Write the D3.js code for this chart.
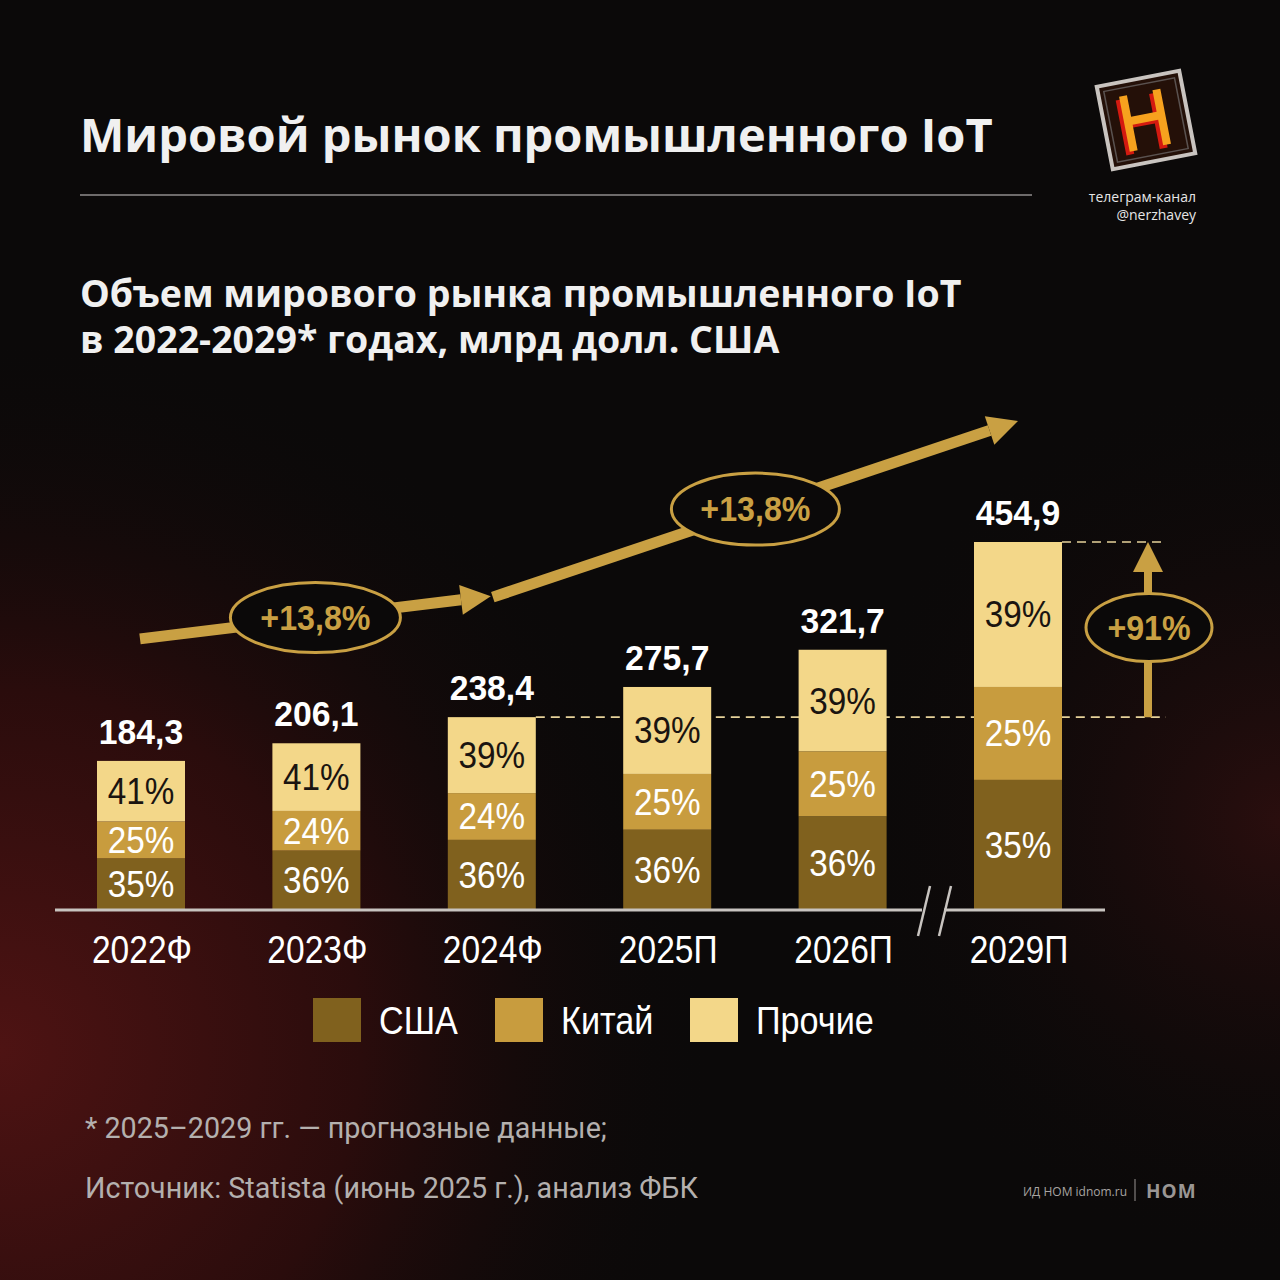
<!DOCTYPE html>
<html lang="ru">
<head>
<meta charset="UTF-8" />
<title>Мировой рынок промышленного IoT</title>
<script src="https://cdn.jsdelivr.net/npm/d3@7"></script>
<style>
  body { margin: 0; background: #0b0909; }
  svg { display: block; }
</style>
</head>
<body>
<script>
// data
const years = ["2022Ф", "2023Ф", "2024Ф", "2025П", "2026П", "2029П"];
const totals = [184.3, 206.1, 238.4, 275.7, 321.7, 454.9];
const usa = [35, 36, 36, 36, 36, 35];
const china = [25, 24, 24, 25, 25, 25];
const others = [41, 41, 39, 39, 39, 39];
const seriesNames = ["США", "Китай", "Прочие"];
const cagrLabels = ["+13,8%", "+13,8%"];
const growthLabel = "+91%";

const W = 1280, H = 1280;
const sans = "'Liberation Sans', Arial, sans-serif";
const gold = "#c9a043";
const colors = ["#80611e", "#c89c3e", "#f3d789"];

const svg = d3.select("body").append("svg")
  .attr("width", W).attr("height", H)
  .attr("viewBox", `0 0 ${W} ${H}`);

// condensed look: squeeze Liberation Sans horizontally
const squeeze = (sx) => (sel) => sel.attr("transform", function () {
  const t = d3.select(this);
  const px = +t.attr("data-x"), py = +t.attr("data-y");
  return `translate(${px},${py}) scale(${sx},1)`;
});

// background with reddish glow
const defs = svg.append("defs");
const glow = defs.append("radialGradient").attr("id", "glow")
  .attr("cx", 0).attr("cy", 1050).attr("r", 720).attr("gradientUnits", "userSpaceOnUse");
glow.append("stop").attr("offset", 0).attr("stop-color", "#4e1313");
glow.append("stop").attr("offset", 0.5).attr("stop-color", "#2a0c0c");
glow.append("stop").attr("offset", 1).attr("stop-color", "#0b0909").attr("stop-opacity", 0);
const glow2 = defs.append("radialGradient").attr("id", "glow2")
  .attr("cx", 1280).attr("cy", 820).attr("r", 450).attr("gradientUnits", "userSpaceOnUse");
glow2.append("stop").attr("offset", 0).attr("stop-color", "#2a0e0e");
glow2.append("stop").attr("offset", 1).attr("stop-color", "#0b0909").attr("stop-opacity", 0);

svg.append("rect").attr("width", W).attr("height", H).attr("fill", "#0b0909");
svg.append("rect").attr("width", W).attr("height", H).attr("fill", "url(#glow)");
svg.append("rect").attr("width", W).attr("height", H).attr("fill", "url(#glow2)");

// header
svg.append("text").attr("x", 80).attr("y", 152)
  .attr("font-family", "'Open Sans', sans-serif").attr("font-weight", 700)
  .attr("font-size", 47).attr("fill", "#f0f0f0")
  .text("Мировой рынок промышленного IoT");
svg.append("line").attr("x1", 80).attr("x2", 1032).attr("y1", 195).attr("y2", 195)
  .attr("stroke", "#6e6b6b").attr("stroke-width", 2);

svg.append("text").attr("x", 80).attr("y", 307)
  .attr("font-family", "'Open Sans', sans-serif").attr("font-weight", 700)
  .attr("font-size", 37.5).attr("fill", "#f0f0f0")
  .text("Объем мирового рынка промышленного IoT");
svg.append("text").attr("x", 80).attr("y", 353)
  .attr("font-family", "'Open Sans', sans-serif").attr("font-weight", 700)
  .attr("font-size", 37.5).attr("fill", "#f0f0f0")
  .text("в 2022-2029* годах, млрд долл. США");

// logo
const logo = svg.append("g").attr("transform", "translate(1146,120) rotate(-11)");
logo.append("rect").attr("x", -42).attr("y", -42).attr("width", 84).attr("height", 84)
  .attr("fill", "#241008").attr("stroke", "#c9c4c0").attr("stroke-width", 4);
logo.append("rect").attr("x", -36).attr("y", -36).attr("width", 72).attr("height", 72)
  .attr("fill", "none").attr("stroke", "#5a5250").attr("stroke-width", 1.5);
const hShape = "M-22,-28h8v22h26v-22h8v56h-8v-26h-26v26h-8z";
logo.append("path").attr("d", hShape).attr("fill", "#d41a10").attr("transform", "translate(-4,3)");
logo.append("path").attr("d", hShape).attr("fill", "#f7a21e");
svg.append("text").attr("x", 1196).attr("y", 202).attr("text-anchor", "end")
  .attr("font-family", "'Open Sans', sans-serif").attr("font-size", 14).attr("fill", "#e6e6e6")
  .text("телеграм-канал");
svg.append("text").attr("x", 1196).attr("y", 220).attr("text-anchor", "end")
  .attr("font-family", "'Open Sans', sans-serif").attr("font-size", 14).attr("fill", "#e6e6e6")
  .text("@nerzhavey");

// scales
const x = d3.scalePoint().domain(years).range([141, 1018]);
const y = d3.scaleLinear().domain([0, 454.9]).range([910, 542]);
const bw = 88;

// stacked data (shares normalised to bar total)
const rows = years.map((yr, i) => ({ year: yr, total: totals[i], parts: [usa[i], china[i], others[i]] }));
rows.forEach(r => {
  const s = d3.sum(r.parts);
  let acc = 0;
  r.segs = r.parts.map((p, k) => {
    const v0 = acc / s * r.total;
    acc += p;
    const v1 = acc / s * r.total;
    return { k, p, v0, v1, year: r.year };
  });
});

// dashed reference lines (behind bars)
const iBase = 2, iLast = 5;
const arrowX = 1148;
svg.append("line")
  .attr("x1", x(years[iBase]) + bw / 2).attr("x2", arrowX + 18)
  .attr("y1", y(totals[iBase])).attr("y2", y(totals[iBase]))
  .attr("stroke", "#e6d29a").attr("stroke-width", 1.6).attr("stroke-dasharray", "9,6");
svg.append("line")
  .attr("x1", x(years[iLast]) + bw / 2).attr("x2", arrowX + 18)
  .attr("y1", y(totals[iLast])).attr("y2", y(totals[iLast]))
  .attr("stroke", "#e6d29a").attr("stroke-width", 1.6).attr("stroke-dasharray", "9,6");

// bars
const bars = svg.append("g").selectAll("g").data(rows).join("g");
bars.selectAll("rect").data(d => d.segs).join("rect")
  .attr("x", d => x(d.year) - bw / 2)
  .attr("width", bw)
  .attr("y", d => y(d.v1))
  .attr("height", d => y(d.v0) - y(d.v1))
  .attr("fill", d => colors[d.k]);
bars.selectAll("text.pct").data(d => d.segs).join("text").attr("class", "pct")
  .attr("data-x", d => x(d.year))
  .attr("data-y", d => (y(d.v0) + y(d.v1)) / 2 + 13)
  .attr("text-anchor", "middle")
  .attr("font-family", sans).attr("font-size", 37)
  .attr("fill", d => d.k === 2 ? "#1a1410" : "#ffffff")
  .text(d => d.p + "%")
  .call(squeeze(0.9));
bars.append("text")
  .attr("data-x", d => x(d.year)).attr("data-y", d => y(d.total) - 17)
  .attr("text-anchor", "middle")
  .attr("font-family", sans).attr("font-weight", 700).attr("font-size", 35.5)
  .attr("fill", "#ffffff")
  .text(d => d3.format(".1f")(d.total).replace(".", ","))
  .call(squeeze(0.95));

// axis baseline with break
const breakX = 933;
svg.append("line").attr("x1", 55).attr("x2", breakX - 11).attr("y1", 910).attr("y2", 910)
  .attr("stroke", "#c8c4c0").attr("stroke-width", 3);
svg.append("line").attr("x1", breakX + 11).attr("x2", 1105).attr("y1", 910).attr("y2", 910)
  .attr("stroke", "#c8c4c0").attr("stroke-width", 3);
[-9, 12].forEach(dx => {
  svg.append("line")
    .attr("x1", breakX + dx + 6).attr("y1", 886)
    .attr("x2", breakX + dx - 6).attr("y2", 936)
    .attr("stroke", "#c8c4c0").attr("stroke-width", 2.5);
});

// year labels
svg.append("g").selectAll("text").data(years).join("text")
  .attr("data-x", d => x(d) + 1).attr("data-y", 963)
  .attr("text-anchor", "middle")
  .attr("font-family", sans).attr("font-size", 39).attr("fill", "#ffffff")
  .text(d => d)
  .call(squeeze(0.86));

// growth arrows
function arrow(x1, y1, x2, y2, sw, headL, headW) {
  const a = Math.atan2(y2 - y1, x2 - x1);
  const bx = x2 - headL * Math.cos(a), by = y2 - headL * Math.sin(a);
  svg.append("line").attr("x1", x1).attr("y1", y1).attr("x2", bx).attr("y2", by)
    .attr("stroke", gold).attr("stroke-width", sw);
  const px = Math.sin(a) * headW, py = -Math.cos(a) * headW;
  svg.append("path")
    .attr("d", `M${x2},${y2}L${bx + px},${by + py}L${bx - px},${by - py}Z`)
    .attr("fill", gold);
}
function badge(cx, cy, rx, ry, label) {
  svg.append("ellipse").attr("cx", cx).attr("cy", cy).attr("rx", rx).attr("ry", ry)
    .attr("fill", "#0b0909").attr("stroke", gold).attr("stroke-width", 3);
  svg.append("text").attr("data-x", cx).attr("data-y", cy + 12).attr("text-anchor", "middle")
    .attr("font-family", sans).attr("font-weight", 700).attr("font-size", 35)
    .attr("fill", gold).text(label)
    .call(squeeze(0.92));
}

const a1 = [x(years[0]) - 1, y(totals[0]) - 122, x(years[2]) - 1, y(totals[2]) - 121];
const a2 = [x(years[2]) + 1, y(totals[2]) - 120, x(years[5]), y(totals[5]) - 121];
arrow(...a1, 11, 30, 15);
arrow(...a2, 11, 30, 15);
const t1 = 0.5, t2 = 0.5;
badge(a1[0] + (a1[2] - a1[0]) * t1, a1[1] + (a1[3] - a1[1]) * t1, 85, 35, cagrLabels[0]);
badge(a2[0] + (a2[2] - a2[0]) * t2, a2[1] + (a2[3] - a2[1]) * t2, 84, 36, cagrLabels[1]);

// +91% vertical arrow
arrow(arrowX, y(totals[iBase]), arrowX, y(totals[iLast]), 8, 30, 15);
badge(arrowX + 1, (y(totals[iBase]) + y(totals[iLast])) / 2 - 2, 63, 34, growthLabel);

// legend
const legX = [313, 495, 690];
const leg = svg.append("g").selectAll("g").data(seriesNames).join("g")
  .attr("transform", (d, i) => `translate(${legX[i]},998)`);
leg.append("rect").attr("width", 48).attr("height", 44).attr("fill", (d, i) => colors[i]);
leg.append("text").attr("data-x", 66).attr("data-y", 36)
  .attr("font-family", sans).attr("font-size", 38).attr("fill", "#ffffff")
  .text(d => d)
  .call(squeeze(0.9));

// footnotes
svg.append("text").attr("x", 85).attr("y", 1138)
  .attr("font-family", "Roboto, sans-serif").attr("font-size", 28.7).attr("fill", "#b4b0ae")
  .text("* 2025–2029 гг. — прогнозные данные;");
svg.append("text").attr("x", 85).attr("y", 1198)
  .attr("font-family", "Roboto, sans-serif").attr("font-size", 28.7).attr("fill", "#b4b0ae")
  .text("Источник: Statista (июнь 2025 г.), анализ ФБК");

// publisher mark
svg.append("text").attr("x", 1023).attr("y", 1196)
  .attr("font-family", "'Open Sans', sans-serif").attr("font-size", 12).attr("fill", "#a8a4a2")
  .text("ИД НОМ idnom.ru");
svg.append("line").attr("x1", 1135).attr("x2", 1135).attr("y1", 1179).attr("y2", 1201)
  .attr("stroke", "#6a6664").attr("stroke-width", 1.5);
svg.append("text").attr("x", 1146).attr("y", 1198)
  .attr("font-family", "'Open Sans', sans-serif").attr("font-weight", 700)
  .attr("font-size", 19).attr("letter-spacing", 1).attr("fill", "#9a9694")
  .text("НОМ");
</script>
</body>
</html>
